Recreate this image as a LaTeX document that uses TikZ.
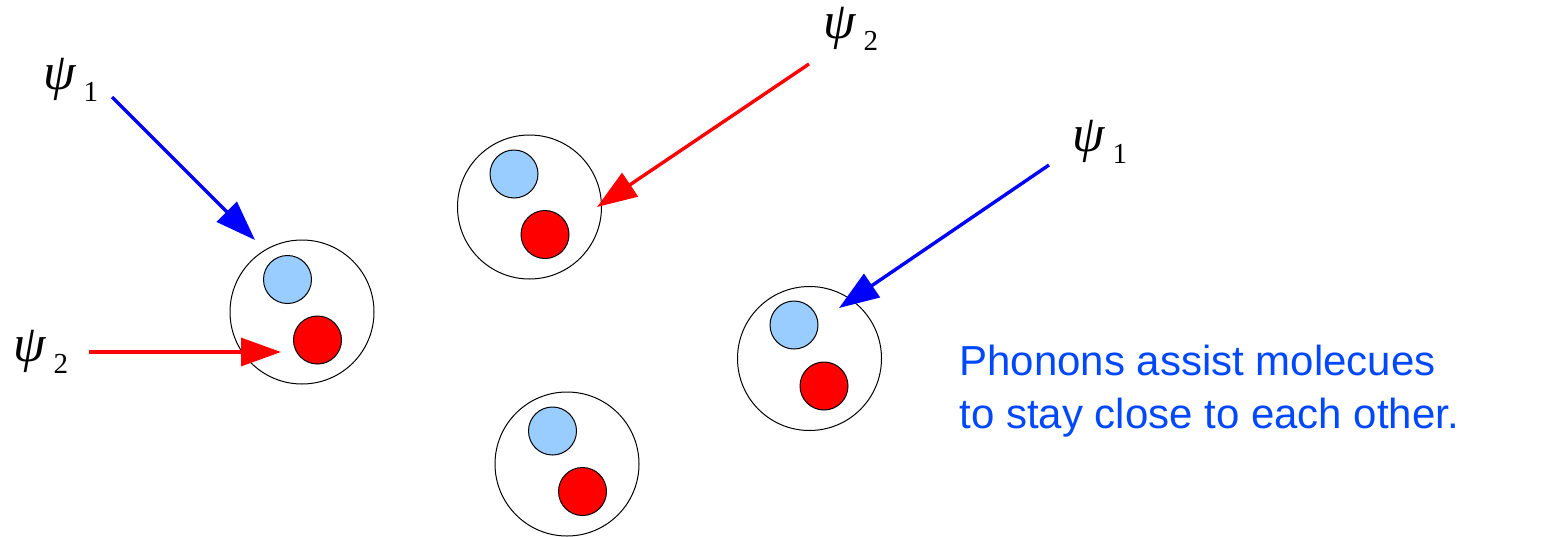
\documentclass[tikz,border=0pt]{standalone}
\usepackage{fontspec}
\newfontfamily\notefont{Liberation Sans}
\newfontfamily\psifont{Liberation Serif}
\usetikzlibrary{arrows.meta}
\definecolor{lightatom}{RGB}{153,204,255}
\definecolor{redatom}{RGB}{255,0,0}
\definecolor{waveblue}{RGB}{0,0,255}
\definecolor{wavered}{RGB}{255,0,0}
\definecolor{noteblue}{RGB}{0,72,255}
\newcommand{\psisub}[1]{{\itshape ψ}\kern4pt\raisebox{-6pt}{\fontsize{14.5}{15}\selectfont #1}}
\begin{document}
\begin{tikzpicture}[x=0.5pt,y=-0.5pt,
  mol/.style={circle,draw=black,line width=0.5pt,fill=white,minimum size=72pt,inner sep=0pt},
  atomA/.style={circle,draw=black,line width=0.5pt,fill=lightatom,minimum size=24pt,inner sep=0pt},
  atomB/.style={circle,draw=black,line width=0.5pt,fill=redatom,minimum size=24pt,inner sep=0pt},
  wave/.style={line width=1.7pt,-{Triangle[length=20pt,width=14pt]}},
  psilabel/.style={inner sep=0pt,anchor=base west,font=\psifont\fontsize{26}{28}\selectfont},
  note/.style={inner sep=0pt,anchor=base west,text=noteblue,font=\notefont\fontsize{21}{25}\selectfont}]
\useasboundingbox (0,0) rectangle (1543,536);
% molecules
\node[mol] (m1) at (302,312) {};
\node[atomA] (m1a) at (287.5,279.5) {};
\node[atomB] (m1b) at (317.5,340) {};
\node[mol] (m2) at (529.5,207) {};
\node[atomA] (m2a) at (514,174) {};
\node[atomB] (m2b) at (545,234.5) {};
\node[mol] (m3) at (809.5,358.5) {};
\node[atomA] (m3a) at (794,325) {};
\node[atomB] (m3b) at (824,386) {};
\node[mol] (m4) at (567,464) {};
\node[atomA] (m4a) at (552.5,431) {};
\node[atomB] (m4b) at (582.5,491.5) {};
% labels
\node[psilabel] (l1) at (43,89) {\psisub{1}};
\node[psilabel] (l2) at (13,361) {\psisub{2}};
\node[psilabel] (l3) at (823,38) {\psisub{2}};
\node[psilabel] (l4) at (1072,151) {\psisub{1}};
% arrow ends
\coordinate (s1) at (112,97);   \coordinate (t1) at (255,240);
\coordinate (s2) at (89,352);   \coordinate (t2) at (281,352);
\coordinate (s3) at (809,64);   \coordinate (t3) at (597,207);
\coordinate (s4) at (1049,165); \coordinate (t4) at (839,308);
\draw[wave,waveblue] (s1) -- (t1);
\draw[wave,wavered] (s2) -- (t2);
\draw[wave,wavered] (s3) -- (t3);
\draw[wave,waveblue] (s4) -- (t4);
% note
\node[note] (n1) at (959,375) {Phonons assist molecues};
\node[note] (n2) at (959,428) {to stay close to each other.};
\end{tikzpicture}
\end{document}
